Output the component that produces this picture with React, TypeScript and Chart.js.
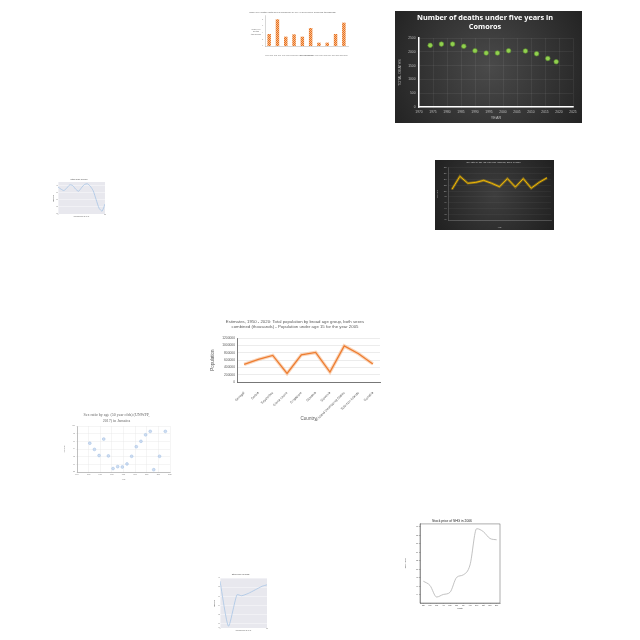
import React, { useEffect, useRef } from "react";
import { Chart, registerables } from "chart.js";
Chart.register(...registerables);
Chart.defaults.font.family = "'Liberation Sans', Arial, sans-serif";

// ---------- Chart A: bar chart (top centre)
const barTitle = "Under-five deaths (both sexes combined) by five-year period in Comoros (thousands)";
const barCategories = ["1960-1965", "1965-1970", "1970-1975", "1975-1980", "1980-1985", "1985-1990", "1990-1995", "1995-2000", "2000-2005", "2005-2010"];
const barValues = [3.6, 8.0, 2.8, 3.5, 2.8, 5.4, 1.0, 1.0, 3.6, 7.0];
const barYTitleLines = ["Under-five", "deaths", "(thousands)"];
const barXTitle = "Five-year period";

// ---------- Chart B: Comoros deaths (dark)
const comorosTitle = ["Number of deaths under five years in", "Comoros"];
const comorosYears = [1974, 1978, 1982, 1986, 1990, 1994, 1998, 2002, 2008, 2012, 2016, 2019];
const comorosDeaths = [2235, 2280, 2280, 2200, 2040, 1955, 1955, 2040, 2030, 1930, 1760, 1640];

// ---------- Chart C: small stock chart (left)
const tsmTitle = "Stock price of TSM";
const tsmDays = [0, 15, 30, 45, 60, 75, 90, 105, 120, 135, 150, 165, 180, 195, 210, 225, 240];
const tsmPrices = [30.6, 30.0, 29.6, 30.3, 31.2, 31.0, 30.0, 29.4, 30.4, 31.3, 31.5, 30.8, 29.5, 27.0, 24.6, 23.8, 25.8];
const tsmXTitle = "Days since 2006-01-01 (d)";
const tsmYTitle = "Price (USD)";

// ---------- Chart D: dark yellow line
const chadTitle = "Sex ratio by age (15 year olds) (UNWPP, 2017) in Chad";
const chadYears = ["1950", "1955", "1960", "1965", "1970", "1975", "1980", "1985", "1990", "1995", "2000", "2005", "2010"];
const chadRatio = [100.6, 105.1, 102.7, 103.0, 103.7, 102.7, 101.5, 104.3, 101.4, 104.3, 101.0, 103.0, 104.6];

// ---------- Chart E: population line (centre)
const popTitle = ["Estimates, 1950 - 2020: Total population by broad age group, both sexes", "combined (thousands) - Population under age 15 for the year 2005"];
const popCountries = ["Senegal", "Serbia", "Seychelles", "Sierra Leone", "Singapore", "Slovakia", "Slovenia", "Small Island Developing States", "Solomon Islands", "Somalia"];
const popValues = [483000, 618000, 725000, 233000, 743000, 806000, 269000, 985000, 770000, 492000];

// ---------- Chart F: Jamaica scatter
const jamTitle = ["Sex ratio by age (50 year olds) (UNWPP,", "2017) in Jamaica"];
const jamYears = [1951, 1955, 1959, 1963, 1967, 1971, 1975, 1979, 1983, 1987, 1991, 1995, 1999, 2003, 2006, 2011, 2016];
const jamRatio = [95.5, 93.9, 92.3, 96.6, 92.2, 88.9, 89.4, 89.3, 90.1, 92.1, 94.6, 96.0, 97.7, 98.6, 88.6, 92.1, 98.6];

// ---------- Chart G: SHG 2006
const shgTitle = "Stock price of SHG in 2006";
const shgMonths = ["Jan", "Feb", "Mar", "Apr", "May", "Jun", "Jul", "Aug", "Sep", "Oct", "Nov", "Dec"];
const shgPrices = [47.2, 46.2, 43.5, 44.1, 44.6, 48.1, 48.7, 51.0, 59.5, 58.8, 57.2, 56.9];

// ---------- Chart H: small stock chart (bottom)
const smbTitle = "Stock price of SMBI";
const smbDays = [0, 18, 36, 46, 60, 75, 90, 100];
const smbPrices = [29.3, 19.4, 26.3, 26.1, 26.6, 27.4, 28.2, 28.5];

type Box = { L: number; T: number; W: number; H: number };

const plain = (v: any) => String(v);

function ChartBox({ box, make }: { box: Box; make: () => any }) {
  const ref = useRef<HTMLCanvasElement>(null);
  useEffect(() => {
    const chart = new Chart(ref.current as HTMLCanvasElement, make());
    return () => chart.destroy();
  }, []);
  return (
    <canvas
      ref={ref}
      width={box.W}
      height={box.H}
      style={{ position: "absolute", left: box.L, top: box.T, width: box.W, height: box.H }}
    />
  );
}

const noLegend = { legend: { display: false }, tooltip: { enabled: false } };

const darkBg = (c0: string, c1: string) => ({
  id: "darkBg",
  beforeDraw(chart: any) {
    const { ctx, width: w, height: h } = chart;
    ctx.save();
    const g = ctx.createRadialGradient(w / 2, h / 2, 0, w / 2, h / 2, Math.max(w, h) * 0.6);
    g.addColorStop(0, c0);
    g.addColorStop(1, c1);
    ctx.fillStyle = g;
    ctx.fillRect(0, 0, w, h);
    ctx.restore();
  },
});

const plotBg = (color: string) => ({
  id: "plotBg",
  beforeDraw(chart: any) {
    const { ctx, chartArea: a } = chart;
    ctx.save();
    ctx.fillStyle = color;
    ctx.fillRect(a.left, a.top, a.right - a.left, a.bottom - a.top);
    ctx.restore();
  },
});

// ---- configs
function makeBar() {
  const pc = document.createElement("canvas");
  pc.width = 2;
  pc.height = 2;
  const p = pc.getContext("2d") as CanvasRenderingContext2D;
  p.fillStyle = "#f6b98d";
  p.fillRect(0, 0, 2, 2);
  p.fillStyle = "#e8731f";
  p.fillRect(0, 0, 1, 1);
  p.fillRect(1, 1, 1, 1);
  const pattern = p.createPattern(pc, "repeat");
  return {
    type: "bar",
    data: { labels: barCategories, datasets: [{ data: barValues, backgroundColor: pattern, barPercentage: 0.42, categoryPercentage: 1 }] },
    options: {
      responsive: false,
      animation: false,
      layout: { padding: { left: 0, right: 4, top: 0, bottom: 1 } },
      plugins: {
        ...noLegend,
        title: { display: true, text: barTitle, color: "#666", font: { size: 2.3, weight: "normal" }, padding: { top: 2, bottom: 2.2 } },
      },
      scales: {
        x: {
          ticks: { color: "#777", font: { size: 1.6 }, maxRotation: 0, autoSkip: false, padding: 0.5 },
          grid: { display: false },
          border: { color: "#999", width: 0.4 },
          title: { display: true, text: barXTitle, color: "#777", font: { size: 1.8 }, padding: 0.5 },
          afterFit: (s: any) => { s.height = 11; },
        },
        y: {
          min: 0,
          max: 9,
          ticks: { stepSize: 1, color: "#777", font: { size: 1.6 }, padding: 0.8 },
          grid: { display: false, tickLength: 1 },
          border: { color: "#999", width: 0.4 },
          afterFit: (s: any) => { s.width = 28; },
        },
      },
    },
    plugins: [
      {
        id: "yTitle",
        afterDraw(chart: any) {
          const ctx = chart.ctx;
          ctx.save();
          ctx.fillStyle = "#777";
          ctx.font = "2px 'Liberation Sans', Arial";
          ctx.textAlign = "center";
          ctx.textBaseline = "middle";
          barYTitleLines.forEach((t, i) => ctx.fillText(t, 19, 20 + i * 2.6));
          ctx.restore();
        },
      },
    ],
  };
}

function makeComoros() {
  const tc = "#bfbfbf";
  return {
    type: "scatter",
    data: {
      datasets: [
        {
          data: comorosYears.map((x, i) => ({ x, y: comorosDeaths[i] })),
          pointRadius: 2.3,
          pointBackgroundColor: "#92d050",
          pointBorderColor: "#5f9630",
          pointBorderWidth: 0.6,
        },
      ],
    },
    options: {
      responsive: false,
      animation: false,
      layout: { padding: { left: 2, right: 9, top: 0, bottom: 2 } },
      plugins: {
        ...noLegend,
        title: {
          display: true,
          text: comorosTitle,
          color: "#ffffff",
          font: { size: 7.3, weight: "bold", family: "'Open Sans', sans-serif" },
          padding: { top: 3, bottom: 6.5 },
        },
      },
      scales: {
        x: {
          type: "linear",
          min: 1970,
          max: 2025,
          ticks: { stepSize: 5, color: tc, font: { size: 3.3 }, maxRotation: 0, autoSkip: false, padding: 1.5, callback: plain },
          grid: { color: "rgba(255,255,255,0.12)", lineWidth: 0.5, tickLength: 1.5 },
          border: { color: "#ffffff", width: 1.5 },
          title: { display: true, text: "YEAR", color: tc, font: { size: 3.8 }, padding: 0.5 },
          afterFit: (s: any) => { s.height = 14; },
        },
        y: {
          min: 0,
          max: 2500,
          ticks: { stepSize: 500, color: tc, font: { size: 3.3 }, padding: 2, callback: plain },
          grid: { color: "rgba(255,255,255,0.12)", lineWidth: 0.5, tickLength: 1.5 },
          border: { color: "#ffffff", width: 1.5 },
          title: { display: true, text: "TOTAL DEATHS", color: tc, font: { size: 3.6 }, padding: 1 },
          afterFit: (s: any) => { s.width = 22; },
        },
      },
    },
    plugins: [darkBg("#4a4a4a", "#222222")],
  };
}

function makeSmallStock(title: string, xs: number[], ys: number[], yMin: number, yMax: number, yW: number, xH: number, padR: number, titleBottom: number) {
  return {
    type: "line",
    data: { datasets: [{ data: xs.map((x, i) => ({ x, y: ys[i] })), borderColor: "#9fc0e4", borderWidth: 0.7, pointRadius: 0, tension: 0.2 }] },
    options: {
      responsive: false,
      animation: false,
      layout: { padding: { left: 1, right: padR, top: 0, bottom: 1 } },
      plugins: {
        ...noLegend,
        title: { display: true, text: title, color: "#444", font: { size: 2, weight: "normal" }, padding: { top: 1.5, bottom: titleBottom } },
      },
      scales: {
        x: {
          type: "linear",
          min: xs[0],
          max: xs[xs.length - 1],
          ticks: { color: "#666", font: { size: 1.2 }, maxRotation: 0, padding: 0.3 },
          grid: { color: "#ffffff", lineWidth: 0.4, tickLength: 0 },
          border: { display: false },
          title: { display: true, text: tsmXTitle, color: "#555", font: { size: 1.3 }, padding: 0.2 },
          afterFit: (s: any) => { s.height = xH; },
        },
        y: {
          min: yMin,
          max: yMax,
          ticks: { color: "#666", font: { size: 1.2 }, padding: 0.3 },
          grid: { color: "#ffffff", lineWidth: 0.4, tickLength: 0 },
          border: { display: false },
          title: { display: true, text: tsmYTitle, color: "#555", font: { size: 1.3 }, padding: 0.2 },
          afterFit: (s: any) => { s.width = yW; },
        },
      },
    },
    plugins: [plotBg("#e8e8ee")],
  };
}

function makeChad() {
  const tc = "#bfbfbf";
  return {
    type: "line",
    data: {
      labels: chadYears,
      datasets: [
        { data: chadRatio, borderColor: "#ffc000", borderWidth: 0.9, pointRadius: 0 },
        { data: chadRatio, borderColor: "rgba(255,200,0,0.35)", borderWidth: 2.6, pointRadius: 0 },
      ],
    },
    options: {
      responsive: false,
      animation: false,
      layout: { padding: { left: 1, right: 3, top: 0, bottom: 1 } },
      plugins: {
        ...noLegend,
        title: { display: true, text: chadTitle, color: "#d0d0d0", font: { size: 2.2, weight: "normal" }, padding: { top: 1.5, bottom: 3.8 } },
      },
      scales: {
        x: {
          offset: true,
          ticks: { color: tc, font: { size: 1.7 }, maxRotation: 0, autoSkip: false, padding: 1 },
          grid: { display: false },
          border: { color: "rgba(255,255,255,0.35)", width: 0.5 },
          title: { display: true, text: "Year", color: tc, font: { size: 2 }, padding: 0.5 },
          afterFit: (s: any) => { s.height = 9; },
        },
        y: {
          min: 90,
          max: 108,
          ticks: { stepSize: 2, color: tc, font: { size: 1.7 }, padding: 1.5 },
          grid: { color: "rgba(255,255,255,0.1)", lineWidth: 0.4, tickLength: 0 },
          border: { color: "rgba(255,255,255,0.35)", width: 0.5 },
          title: { display: true, text: "Sex ratio", color: tc, font: { size: 2 }, padding: 0.5 },
          afterFit: (s: any) => { s.width = 12; },
        },
      },
    },
    plugins: [darkBg("#3e3e3e", "#1f1f1f")],
  };
}

function makePop() {
  const tc = "#595959";
  return {
    type: "line",
    data: {
      labels: popCountries,
      datasets: [
        { data: popValues, borderColor: "#ed7d31", borderWidth: 1.3, pointRadius: 0 },
        { data: popValues, borderColor: "rgba(246,178,130,0.55)", borderWidth: 3.4, pointRadius: 0 },
      ],
    },
    options: {
      responsive: false,
      animation: false,
      layout: { padding: { left: 2, right: 5, top: 0, bottom: 2 } },
      plugins: {
        ...noLegend,
        title: { display: true, text: popTitle, color: tc, font: { size: 4.3, weight: "normal" }, padding: { top: 2.5, bottom: 8.2 } },
      },
      scales: {
        x: {
          offset: true,
          ticks: { color: tc, font: { size: 3.3 }, maxRotation: 45, minRotation: 45, autoSkip: false, padding: 1 },
          grid: { display: false },
          border: { color: "#595959", width: 0.8 },
          title: { display: true, text: "Country", color: tc, font: { size: 4.5 }, padding: 0 },
          afterFit: (s: any) => { s.height = 39; },
        },
        y: {
          min: 0,
          max: 1200000,
          ticks: { stepSize: 200000, color: tc, font: { size: 3.3 }, padding: 2, callback: plain },
          grid: { color: "#d9d9d9", lineWidth: 0.5, tickLength: 0 },
          border: { color: "#595959", width: 0.8 },
          title: { display: true, text: "Population", color: tc, font: { size: 4.5 }, padding: 0.5 },
          afterFit: (s: any) => { s.width = 27; },
        },
      },
    },
  };
}

function makeJam() {
  const tc = "#777";
  return {
    type: "scatter",
    data: {
      datasets: [
        {
          data: jamYears.map((x, i) => ({ x, y: jamRatio[i] })),
          pointRadius: 1.4,
          pointBackgroundColor: "rgba(186,208,236,0.7)",
          pointBorderColor: "#9ebde2",
          pointBorderWidth: 0.5,
        },
      ],
    },
    options: {
      responsive: false,
      animation: false,
      layout: { padding: { left: 1, right: 6, top: 0, bottom: 1 } },
      plugins: {
        ...noLegend,
        title: {
          display: true,
          text: jamTitle,
          color: "#666",
          font: { size: 4, weight: "normal", family: "'Liberation Serif', 'DejaVu Serif', serif", lineHeight: 1.4 },
          padding: { top: 1.5, bottom: 2.3 },
        },
      },
      scales: {
        x: {
          type: "linear",
          min: 1940,
          max: 2020,
          ticks: { stepSize: 10, color: tc, font: { size: 1.5 }, maxRotation: 0, padding: 1, callback: plain },
          grid: { color: "#e6e6e6", lineWidth: 0.4, tickLength: 1 },
          border: { color: "#888", width: 0.5 },
          title: { display: true, text: "Year", color: tc, font: { size: 1.8 }, padding: 0.5 },
          afterFit: (s: any) => { s.height = 9; },
        },
        y: {
          min: 88,
          max: 100,
          ticks: { stepSize: 1, color: tc, font: { size: 1.5 }, padding: 1 },
          grid: { color: "#e6e6e6", lineWidth: 0.4, tickLength: 1 },
          border: { color: "#888", width: 0.5 },
          title: { display: true, text: "Sex ratio", color: tc, font: { size: 1.8 }, padding: 0.5 },
          afterFit: (s: any) => { s.width = 14; },
        },
      },
    },
  };
}

function makeShg() {
  const tc = "#333";
  return {
    type: "line",
    data: {
      labels: shgMonths,
      datasets: [{ data: shgPrices, borderColor: "#b3b3b3", borderWidth: 0.8, pointRadius: 0, cubicInterpolationMode: "monotone" }],
    },
    options: {
      responsive: false,
      animation: false,
      layout: { padding: { left: 1, right: 4, top: 0, bottom: 0.5 } },
      plugins: {
        ...noLegend,
        title: { display: true, text: shgTitle, color: "#222", font: { size: 3.3, weight: "normal" }, padding: { top: 3, bottom: 1 } },
      },
      scales: {
        x: {
          offset: true,
          ticks: { color: tc, font: { size: 1.8 }, maxRotation: 0, autoSkip: false, padding: 0.5 },
          grid: { drawOnChartArea: false, tickLength: 1, lineWidth: 0.3, color: "#333" },
          border: { color: "#333", width: 0.4 },
          title: { display: true, text: "Month", color: tc, font: { size: 1.9 }, padding: 0.2 },
          afterFit: (s: any) => { s.height = 6.5; },
        },
        y: {
          min: 42.1,
          max: 60.6,
          ticks: { stepSize: 2, includeBounds: false, color: tc, font: { size: 1.8 }, padding: 0.8 },
          grid: { drawOnChartArea: false, tickLength: 1, lineWidth: 0.3, color: "#333" },
          border: { color: "#333", width: 0.4 },
          title: { display: true, text: "Price (USD)", color: tc, font: { size: 1.9 }, padding: 0.5 },
          afterFit: (s: any) => { s.width = 16; },
        },
      },
    },
    plugins: [
      {
        id: "frame",
        afterDraw(chart: any) {
          const { ctx, chartArea: a } = chart;
          ctx.save();
          ctx.strokeStyle = "#333";
          ctx.lineWidth = 0.4;
          ctx.strokeRect(a.left, a.top, a.right - a.left, a.bottom - a.top);
          ctx.restore();
        },
      },
    ],
  };
}

export default function App() {
  return (
    <div style={{ position: "absolute", left: 0, top: 0, width: 640, height: 640, background: "#ffffff", overflow: "hidden" }}>
      <ChartBox box={{ L: 237, T: 9, W: 115, H: 49 }} make={makeBar} />
      <ChartBox box={{ L: 395, T: 11, W: 187, H: 112 }} make={makeComoros} />
      <ChartBox box={{ L: 52, T: 177, W: 62, H: 42 }} make={() => makeSmallStock(tsmTitle, tsmDays, tsmPrices, 23, 32, 5, 4, 9, 1.1)} />
      <ChartBox box={{ L: 435, T: 160, W: 119, H: 70 }} make={makeChad} />
      <ChartBox box={{ L: 208, T: 317, W: 177, H: 106 }} make={makePop} />
      <ChartBox box={{ L: 62, T: 411, W: 114, H: 71 }} make={makeJam} />
      <ChartBox box={{ L: 403, T: 516, W: 101, H: 94 }} make={makeShg} />
      <ChartBox box={{ L: 213, T: 572, W: 60, H: 61 }} make={() => makeSmallStock(smbTitle, smbDays, smbPrices, 19, 30, 6, 4, 6, 2.1)} />
    </div>
  );
}
